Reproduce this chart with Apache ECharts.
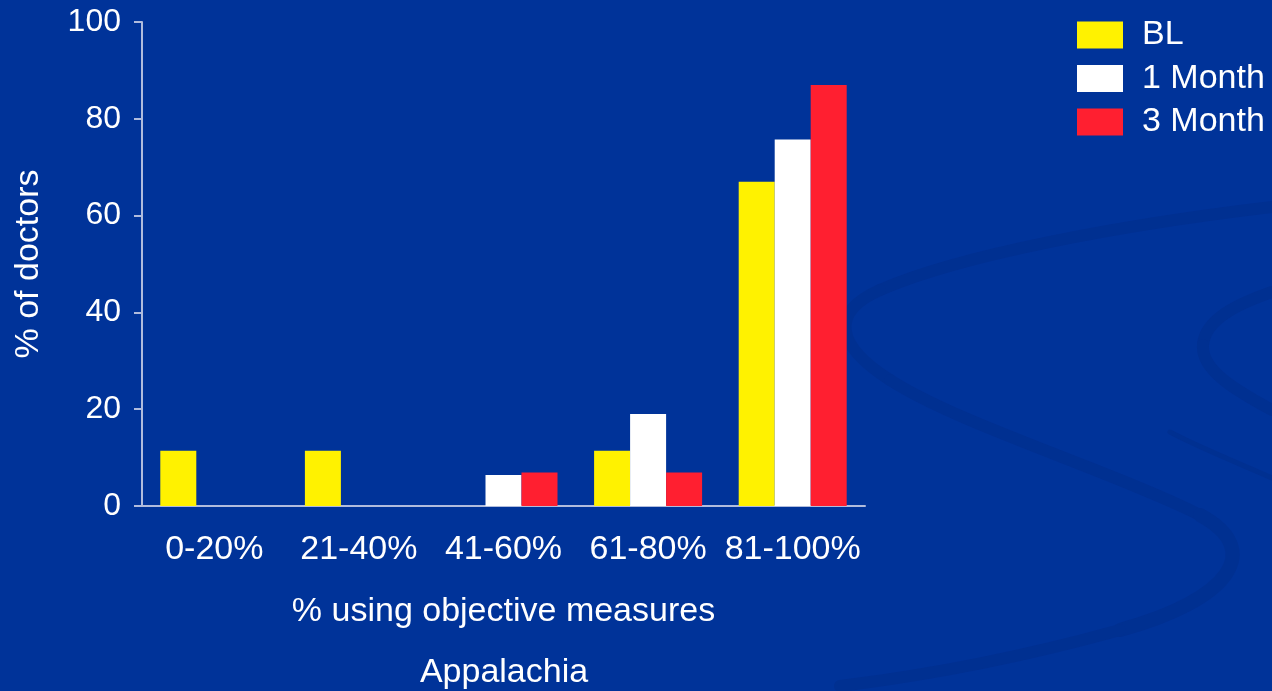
<!DOCTYPE html>
<html>
<head>
<meta charset="utf-8">
<style>
  html, body { margin: 0; padding: 0; background: #003399; }
  #chart { width: 1272px; height: 691px; }
</style>
<script src="https://cdn.jsdelivr.net/npm/echarts@6/dist/echarts.min.js"></script>
</head>
<body>
<div id="chart"></div>
<script>
// Share of doctors by how often they use objective measures, Appalachia
const categories = ['0-20%', '21-40%', '41-60%', '61-80%', '81-100%'];
const seriesNames = ['BL', '1 Month', '3 Month'];
const baseline = [11.4, 11.4, 0, 11.4, 67.0];
const oneMonth = [0, 0, 6.4, 19.0, 75.7];
const threeMonth = [0, 0, 6.9, 6.9, 87.0];
const yTicks = [0, 20, 40, 60, 80, 100];

const font = '"Liberation Sans", Arial, sans-serif';
const axisGrey = '#b0bcdd';
const colors = ['#fff200', '#ffffff', '#ff1f30'];
const values = [baseline, oneMonth, threeMonth];

// faint decorative swirl in the background, as cubic segments
// [x1, y1, cp1x, cp1y, cp2x, cp2y, x2, y2, width]
const swirlColor = '#003091';
const swirl = [
  [1272, 207, 1120, 225, 960, 255, 880, 290, 12],
  [880, 290, 830, 312, 835, 345, 890, 380, 12],
  [890, 380, 960, 425, 1110, 470, 1200, 515, 12],
  [1200, 515, 1265, 550, 1230, 600, 1120, 630, 14],
  [1120, 630, 1030, 655, 930, 675, 840, 686, 12],
  [1272, 292, 1235, 305, 1205, 320, 1203, 345, 12],
  [1203, 345, 1201, 370, 1235, 390, 1272, 410, 12],
  [1272, 478, 1250, 468, 1200, 448, 1170, 432, 5]
];

const chart = echarts.init(document.getElementById('chart'), null, { renderer: 'canvas' });

chart.setOption({
  backgroundColor: '#003399',
  animation: false,
  graphic: swirl.map(s => ({
    type: 'bezierCurve',
    z: -10,
    silent: true,
    shape: { x1: s[0], y1: s[1], cpx1: s[2], cpy1: s[3], cpx2: s[4], cpy2: s[5], x2: s[6], y2: s[7] },
    style: { fill: null, stroke: swirlColor, lineWidth: s[8], lineCap: 'round' }
  })),
  title: {
    text: 'Appalachia',
    left: 499,
    top: 651,
    textAlign: 'center',
    textStyle: { color: '#ffffff', fontFamily: font, fontSize: 34, fontWeight: 'normal' }
  },
  legend: {
    orient: 'vertical',
    left: 1072,
    top: 13,
    itemWidth: 46,
    itemHeight: 27,
    itemGap: 9.5,
    icon: 'rect',
    data: seriesNames,
    textStyle: { color: '#ffffff', fontFamily: font, fontSize: 34, padding: [0, 0, 0, 14] }
  },
  grid: { left: 142, right: 407, top: 22, bottom: 185, containLabel: false },
  xAxis: {
    type: 'category',
    data: categories,
    name: '% using objective measures',
    nameLocation: 'middle',
    nameGap: 89,
    nameTextStyle: { color: '#ffffff', fontFamily: font, fontSize: 34 },
    axisLine: { lineStyle: { color: axisGrey, width: 2 } },
    axisTick: { show: false },
    axisLabel: { color: '#ffffff', fontFamily: font, fontSize: 34, margin: 27, interval: 0 }
  },
  yAxis: {
    type: 'value',
    min: yTicks[0],
    max: yTicks[yTicks.length - 1],
    interval: yTicks[1] - yTicks[0],
    name: '% of doctors',
    nameLocation: 'middle',
    nameGap: 96,
    nameTextStyle: { color: '#ffffff', fontFamily: font, fontSize: 34 },
    axisLine: { show: true, lineStyle: { color: axisGrey, width: 2 } },
    axisTick: { show: true, length: 8, lineStyle: { color: axisGrey, width: 2 } },
    splitLine: { show: false },
    axisLabel: { color: '#ffffff', fontFamily: font, fontSize: 32, margin: 21 }
  },
  series: seriesNames.map((name, i) => ({
    name,
    type: 'bar',
    data: values[i],
    barWidth: 36,
    barGap: '0%',
    itemStyle: { color: colors[i] }
  }))
});
</script>
</body>
</html>
